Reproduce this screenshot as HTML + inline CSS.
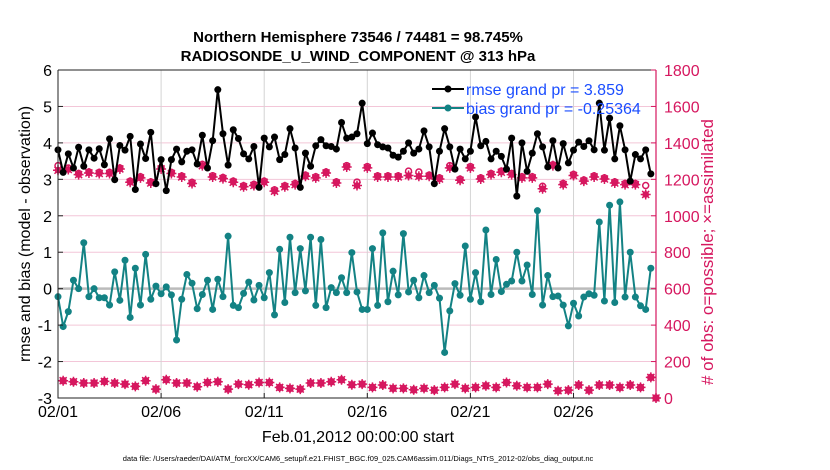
<!DOCTYPE html>
<html><head><meta charset="utf-8"><style>
body{margin:0;background:#fff;}
svg{display:block;font-family:"Liberation Sans",sans-serif;}
</style></head><body>
<svg id="chart" width="830" height="470" viewBox="0 0 830 470" xmlns="http://www.w3.org/2000/svg">
<text x="358" y="42" font-size="15" font-weight="bold" text-anchor="middle">Northern Hemisphere 73546 / 74481 = 98.745%</text>
<text x="358" y="61" font-size="15" font-weight="bold" text-anchor="middle">RADIOSONDE_U_WIND_COMPONENT @ 313 hPa</text>
<g id="grid"></g>
<g id="marks"></g>
<g id="axes"></g>
<text transform="translate(30,234) rotate(-90)" font-size="16" text-anchor="middle">rmse and bias (model - observation)</text>
<text transform="translate(713,252) rotate(-90)" font-size="17" text-anchor="middle" fill="#d6175f"># of obs: o=possible; ×=assimilated</text>
<text x="358" y="442" font-size="16" text-anchor="middle">Feb.01,2012 00:00:00 start</text>
<text x="358" y="461" font-size="7.5" text-anchor="middle">data file: /Users/raeder/DAI/ATM_forcXX/CAM6_setup/f.e21.FHIST_BGC.f09_025.CAM6assim.011/Diags_NTrS_2012-02/obs_diag_output.nc</text>
<g>
<line x1="432" y1="89" x2="464" y2="89" stroke="#000" stroke-width="2"/><circle cx="448" cy="89" r="3.5" fill="#000"/>
<text x="466" y="95" font-size="16" fill="#1a4dff">rmse grand pr = 3.859</text>
<line x1="432" y1="108" x2="464" y2="108" stroke="#138284" stroke-width="2"/><circle cx="448" cy="108" r="3.5" fill="#138284"/>
<text x="466" y="114" font-size="16" fill="#1a4dff">bias grand pr = -0.25364</text>
</g>
</svg>
<script>
const rmse=[3.81,3.19,3.7,3.31,3.88,3.36,3.81,3.58,3.84,3.4,4.11,2.99,3.93,3.8,4.18,2.72,3.97,3.57,4.29,2.88,3.54,2.69,3.54,3.83,3.48,3.77,3.81,3.42,4.21,3.31,
4.06,5.46,4.25,3.39,4.36,4.12,3.7,3.56,3.9,2.78,4.13,3.89,4.16,3.54,3.68,4.39,3.86,2.78,3.72,3.36,3.92,4.09,3.92,3.9,3.83,4.56,4.13,4.16,4.25,
5.09,3.98,4.27,3.95,3.89,3.86,3.66,3.61,3.77,4.0,3.72,3.83,4.33,3.89,2.88,3.77,4.39,3.89,3.28,3.83,3.56,3.77,4.71,3.92,4.04,3.56,3.77,3.63,3.28,
4.13,2.54,4.0,3.22,3.72,4.25,3.89,3.34,4.06,3.31,3.98,3.45,3.8,4.02,3.9,4.06,3.81,5.09,3.8,4.68,3.56,4.47,3.81,2.95,3.68,3.56,3.81,3.15];
const bias=[-0.22,-1.04,-0.63,0.23,0,1.26,-0.22,0,-0.25,-0.25,-0.45,0.46,-0.32,0.78,-0.79,0.56,-0.45,0.94,-0.29,0.07,-0.14,0.05,-0.17,-1.41,-0.29,0.39,0.15,-0.55,-0.16,0.23,
-0.57,0.26,-0.22,1.44,-0.46,-0.52,-0.13,0.18,-0.31,0.09,-0.25,0.44,-0.72,1.08,-0.38,1.41,-0.11,1.1,-0.06,1.41,-0.46,1.35,-0.52,0.03,-0.11,0.3,-0.11,0.99,-0.09,
-0.57,-0.57,1.1,-0.46,1.53,-0.36,0.48,-0.17,1.51,-0.09,0.23,-0.25,0.36,-0.11,0.09,-0.26,-1.75,-0.61,0.14,-0.18,1.17,-0.29,0.44,-0.36,1.61,-0.16,0.8,-0.08,0.12,
0.21,1.0,0.21,0.65,-0.16,2.14,-0.45,0.36,-0.22,-0.2,-0.45,-1.02,-0.4,-0.75,-0.23,-0.14,-0.18,1.83,-0.34,2.29,-0.38,2.38,-0.23,1.0,-0.23,-0.47,-0.57,0.56];
const assimilated=[1250,95,1254,89,1226,82,1235,82,1232,91,1232,82,1257,76,1184,64,1208,95,1180,49,1257,100,1232,82,1213,82,1177,62,1275,85,
1213,89,1204,49,1184,76,1159,73,1166,85,1184,85,1135,58,1159,53,1171,49,1217,82,1208,82,1235,89,1180,100,1268,73,1166,
76,1263,58,1213,71,1213,53,1213,53,1221,45,1217,53,1217,43,1202,58,1263,76,1195,53,1263,58,1202,67,1226,58,1239,85,
1226,67,1208,58,1208,58,1148,76,1275,40,1171,43,1221,71,1190,43,1213,71,1202,71,1180,58,1171,71,1171,58,1117,113,0];
const possible=[1275,95,1262,89,1232,82,1240,82,1238,91,1238,82,1262,76,1190,64,1214,95,1186,49,1262,100,1238,82,1218,82,1183,62,1282,85,
1220,89,1210,49,1190,76,1165,73,1172,85,1190,85,1142,58,1165,53,1177,49,1223,82,1214,82,1240,89,1186,100,1275,73,1185,
76,1270,58,1219,71,1219,53,1219,53,1245,45,1240,53,1223,43,1208,58,1275,76,1201,53,1270,58,1208,67,1232,58,1245,85,
1232,67,1214,58,1214,58,1162,76,1280,40,1177,43,1227,71,1196,43,1219,71,1208,71,1186,58,1177,71,1177,58,1166,113,0];
const leftTicks=[-3,-2,-1,0,1,2,3,4,5,6];
const rightTicks=[0,200,400,600,800,1000,1200,1400,1600,1800];
const xTickDays=[0,5,10,15,20,25];
const xTickLabels=['02/01','02/06','02/11','02/16','02/21','02/26'];
const stepDays=0.25;

const X0=58,X1=656,Y0=398,Y1=70,DAYS=29;
const RED='#d6175f',TEAL='#138284';
function xs(d){return X0+(d/DAYS)*(X1-X0);}
function yl(v){return Y0-(v+3)/9*(Y0-Y1);}
function yr(v){return Y0-v/1800*(Y0-Y1);}
const NS='http://www.w3.org/2000/svg';
function mk(tag,attrs,parent){const e=document.createElementNS(NS,tag);for(const k in attrs)e.setAttribute(k,attrs[k]);parent.appendChild(e);return e;}
const grid=document.getElementById('grid'),marks=document.getElementById('marks'),axes=document.getElementById('axes');
leftTicks.forEach(t=>{const l=mk('line',{x1:X0,x2:X1,y1:yl(t),y2:yl(t),stroke:'#f3c6d8','stroke-width':1},grid);

});
xTickDays.forEach(d=>{const l=mk('line',{x1:xs(d),x2:xs(d),y1:Y1,y2:Y0,stroke:'#d4d4d4','stroke-width':1},grid);

});
const z=mk('line',{x1:X0,x2:X1,y1:yl(0),y2:yl(0),stroke:'#bbbbbb','stroke-width':2.5},grid);


assimilated.forEach((v,i)=>{const x=xs(i*stepDays);
const pc=mk('circle',{cx:x,cy:yr(possible[i]),r:3,fill:'none',stroke:RED,'stroke-width':1.5},marks);


const y=yr(v);
const g=mk('g',{},marks);


mk('circle',{cx:x,cy:y,r:3.3,fill:RED},g);
mk('path',{d:`M${x-5} ${y}H${x+5}M${x} ${y-5}V${y+5}M${x-3.5} ${y-3.5}L${x+3.5} ${y+3.5}M${x-3.5} ${y+3.5}L${x+3.5} ${y-3.5}`,stroke:RED,'stroke-width':1.5},g);
});
function series(arr,color,name){
const pts=arr.map((v,i)=>xs(i*stepDays).toFixed(1)+','+yl(v).toFixed(1)).join(' ');
const p=mk('polyline',{points:pts,fill:'none',stroke:color,'stroke-width':2},marks);


arr.forEach((v,i)=>{const c=mk('circle',{cx:xs(i*stepDays),cy:yl(v),r:3.5,fill:color},marks);

});
}
series(bias,TEAL,'bias');
series(rmse,'#000','rmse');
const fr=mk('path',{d:`M${X0} ${Y1}H${X1}M${X0} ${Y1}V${Y0}H${X1}`,fill:'none',stroke:'#222','stroke-width':1},axes);


const ra=mk('line',{x1:X1,x2:X1,y1:Y1,y2:Y0,stroke:RED,'stroke-width':1.2},axes);


leftTicks.forEach(t=>{const y=yl(t);mk('line',{x1:X0,x2:X0+5,y1:y,y2:y,stroke:'#222'},axes);
const tx=mk('text',{x:X0-6,y:y+6,'font-size':16,'text-anchor':'end'},axes);tx.textContent=t;

});
rightTicks.forEach(t=>{const y=yr(t);mk('line',{x1:X1-5,x2:X1,y1:y,y2:y,stroke:RED},axes);
const tx=mk('text',{x:X1+8,y:y+6,'font-size':16,fill:RED},axes);tx.textContent=t;

});
xTickDays.forEach((d,i)=>{const x=xs(d);mk('line',{x1:x,x2:x,y1:Y0,y2:Y0-5,stroke:'#222'},axes);
const tx=mk('text',{x:x,y:Y0+19,'font-size':16,'text-anchor':'middle'},axes);tx.textContent=xTickLabels[i];

});
</script>
</body></html>
